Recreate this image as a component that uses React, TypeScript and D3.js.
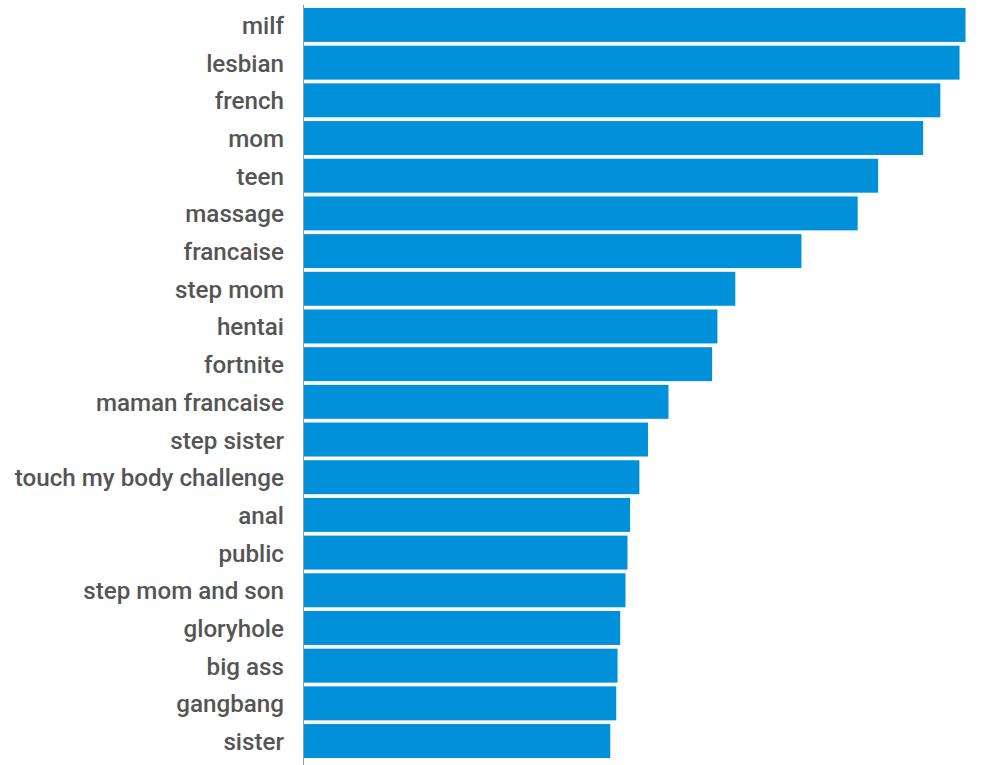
import React from "react";
import * as d3 from "d3";

const categories = [
  "milf", "lesbian", "french", "mom", "teen", "massage", "francaise", "step mom",
  "hentai", "fortnite", "maman francaise", "step sister", "touch my body challenge",
  "anal", "public", "step mom and son", "gloryhole", "big ass", "gangbang", "sister",
];
const values = [
  100, 99.1, 96.2, 93.6, 86.8, 83.7, 75.2, 65.2, 62.5, 61.7,
  55.1, 52.0, 50.7, 49.3, 48.9, 48.6, 47.8, 47.4, 47.2, 46.3,
];

const W = 997;
const H = 765;
const axisX = 303.5;

export default function App() {
  const x = d3.scaleLinear().domain([0, 100]).range([304, 965.5]);
  const y = d3.scaleBand<string>().domain(categories).range([6.1, 759.9]).paddingInner(0.099).paddingOuter(0.05);
  return (
    <svg width={W} height={H} style={{ position: "absolute", left: 0, top: 0 }} fontFamily="Roboto">
      <rect width={W} height={H} fill="#fff" />
      {categories.map((c, i) => (
        <g key={c}>
          <rect x={x(0)} y={y(c)} width={x(values[i]) - x(0)} height={y.bandwidth()} fill="#0091DA" />
          <text x={284} y={(y(c) as number) + 26} textAnchor="end" fontSize={24.2} fontWeight={500} fill="#555">
            {c}
          </text>
        </g>
      ))}
      <line x1={axisX} x2={axisX} y1={5} y2={H} stroke="#999" strokeWidth={1} />
    </svg>
  );
}
